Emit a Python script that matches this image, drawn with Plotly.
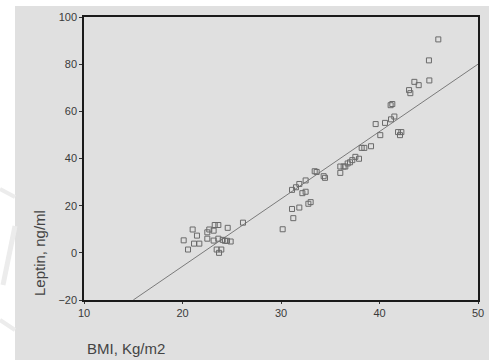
import plotly.graph_objects as go

bmi = [20.12, 20.56, 21.03, 21.17, 21.47, 21.71, 22.52, 22.52, 22.72, 23.16, 23.27, 23.64,
       23.16, 23.47, 23.71, 23.94, 23.64, 24.08, 24.31, 24.59, 24.52, 24.89, 26.14,
       30.17, 31.12, 31.25, 31.12, 31.52, 31.86, 31.86, 32.17, 32.50, 32.50, 32.78, 33.01,
       33.42, 33.62, 34.33, 34.47, 36.02, 36.02, 36.36, 36.53, 36.77, 37.01, 37.24, 37.55,
       37.92, 38.19, 38.46, 39.14, 39.61, 40.08, 40.56, 41.17, 41.51, 41.13, 41.30, 41.88,
       42.22, 42.08, 43.00, 43.13, 43.54, 43.98, 45.02, 45.06, 45.97]
leptin = [5.3, 1.4, 9.9, 3.9, 7.3, 3.9, 6.0, 8.7, 9.9, 9.4, 11.8, 11.8,
          5.2, 1.4, 0.0, 1.4, 6.0, 5.5, 5.1, 10.6, 5.1, 4.8, 12.8,
          10.0, 18.6, 14.7, 26.7, 27.8, 29.2, 19.2, 25.3, 25.9, 30.7, 20.8, 21.5,
          34.6, 34.3, 32.5, 31.8, 33.9, 36.6, 36.6, 36.6, 37.9, 38.4, 39.3, 40.7,
          39.9, 44.5, 44.5, 45.2, 54.6, 49.9, 55.1, 56.6, 57.8, 62.6, 63.1, 51.2,
          51.2, 49.9, 69.0, 67.7, 72.5, 71.1, 81.6, 73.1, 90.5]

fit_x = [15, 50]
fit_y = [-20, 80]

x_ticks = [10, 20, 30, 40, 50]
y_ticks = [-20, 0, 20, 40, 60, 80, 100]

L, T, R, B = 84, 17, 478, 300
PW, PH = R - L, B - T


def px(xp):
    return (xp - L) / PW


def py(yp):
    return (B - yp) / PH


fig = go.Figure()
fig.add_trace(go.Scatter(x=fit_x, y=fit_y, mode="lines",
                         line=dict(color="#7a7a7a", width=1), hoverinfo="skip"))
fig.add_trace(go.Scatter(x=bmi, y=leptin, mode="markers",
                         marker=dict(symbol="square-open", size=5, color="#6a6a6a",
                                     line=dict(width=1, color="#6a6a6a"))))

gray = "#e0e0e0"
wm = "#ececec"
shapes = [
    dict(type="rect", xref="paper", yref="paper", layer="below",
         x0=px(15), x1=px(492), y0=py(362), y1=py(6),
         fillcolor=gray, line=dict(width=0)),
    dict(type="line", xref="paper", yref="paper", layer="below",
         x0=px(0), y0=py(189), x1=px(15), y1=py(197), line=dict(color=wm, width=4)),
    dict(type="line", xref="paper", yref="paper", layer="below",
         x0=px(3), y0=py(285), x1=px(15), y1=py(226), line=dict(color=wm, width=5)),
    dict(type="line", xref="paper", yref="paper", layer="below",
         x0=px(0), y0=py(320), x1=px(15), y1=py(330), line=dict(color=wm, width=4)),
]

fig.update_layout(
    width=489, height=360,
    autosize=False,
    margin=dict(l=L, r=489 - R, t=T, b=360 - B, pad=0, autoexpand=False),
    paper_bgcolor="white", plot_bgcolor=gray,
    showlegend=False,
    font=dict(family="Liberation Sans, Arial, sans-serif", color="#333333", size=11),
    xaxis=dict(range=[10, 50], tickvals=x_ticks, showgrid=False, zeroline=False,
               showline=True, mirror=True, linecolor="#1a1a1a", linewidth=1.5,
               ticks="outside", ticklen=2, tickcolor="#333333", automargin=False,
               tickfont=dict(size=11, color="#3a3a3a")),
    yaxis=dict(range=[-20, 100], tickvals=y_ticks, showgrid=False, zeroline=False,
               showline=True, mirror=True, linecolor="#1a1a1a", linewidth=1.5,
               ticks="outside", ticklen=3, tickcolor="#333333", automargin=False,
               tickfont=dict(size=11, color="#3a3a3a")),
    shapes=shapes,
    annotations=[
        dict(text="BMI, Kg/m2", xref="paper", yref="paper",
             x=px(85), y=py(349), xanchor="left", yanchor="middle",
             showarrow=False, font=dict(size=15, color="#444444")),
        dict(text="Leptin, ng/ml", xref="paper", yref="paper", textangle=-90,
             x=px(39), y=py(253), xanchor="center", yanchor="middle",
             showarrow=False, font=dict(size=15, color="#444444")),
    ],
)

fig.write_html("out.html", config={"responsive": False, "displayModeBar": False},
               post_script="document.body.style.margin='0';document.body.style.padding='0';")
